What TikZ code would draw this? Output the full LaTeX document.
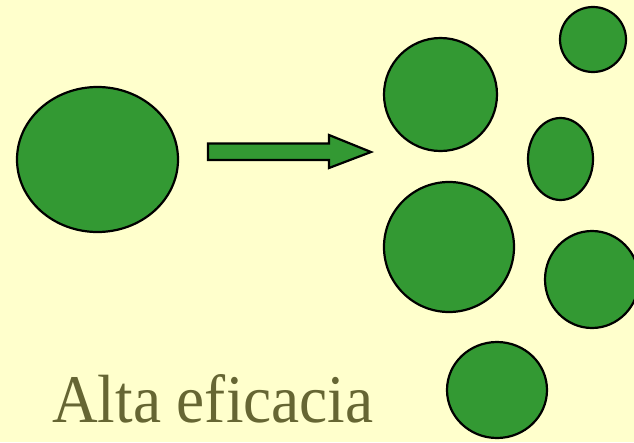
\documentclass[tikz,border=0pt]{standalone}
\usepackage{fontspec}
\setmainfont{Liberation Serif}
\usetikzlibrary{shapes.geometric}
\definecolor{bgyellow}{HTML}{FFFFCC}
\definecolor{cellgreen}{HTML}{339933}
\definecolor{olivetext}{HTML}{666633}
\begin{document}
\begin{tikzpicture}[x=1pt,y=-1pt,
  cell/.style={ellipse,draw=black,fill=cellgreen,line width=2.2pt,inner sep=0pt},
  blockarrow/.style={draw=black,fill=cellgreen,line width=2.2pt,line join=miter}]
\useasboundingbox (0,0) rectangle (634,442);
\fill[bgyellow] (0,0) rectangle (634,442);
\begin{scope}
\clip (0,0) rectangle (634,442);
\node[cell,minimum width=161pt,minimum height=145pt] (big) at (97.5,159.5) {};
\node[cell,minimum width=113pt,minimum height=113pt] (c1) at (440.5,94.5) {};
\node[cell,minimum width=66pt,minimum height=65pt] (c2) at (593,39.5) {};
\node[cell,minimum width=65pt,minimum height=82pt] (c3) at (560.5,159) {};
\node[cell,minimum width=130pt,minimum height=130pt] (c4) at (449,247) {};
\node[cell,minimum width=94pt,minimum height=97pt] (c5) at (592,279.5) {};
\node[cell,minimum width=100pt,minimum height=96pt] (c6) at (497,390) {};
\end{scope}
\draw[blockarrow] (208,143.5) -- (329,143.5) -- (329,135) -- (371,152) -- (329,168) -- (329,160) -- (208,160) -- cycle;
\node[anchor=base west,inner sep=0pt,text=olivetext,font=\fontsize{62}{66}\selectfont,xscale=1.02,yscale=1.1] (label) at (52,422) {Alta eficacia};
\end{tikzpicture}
\end{document}
